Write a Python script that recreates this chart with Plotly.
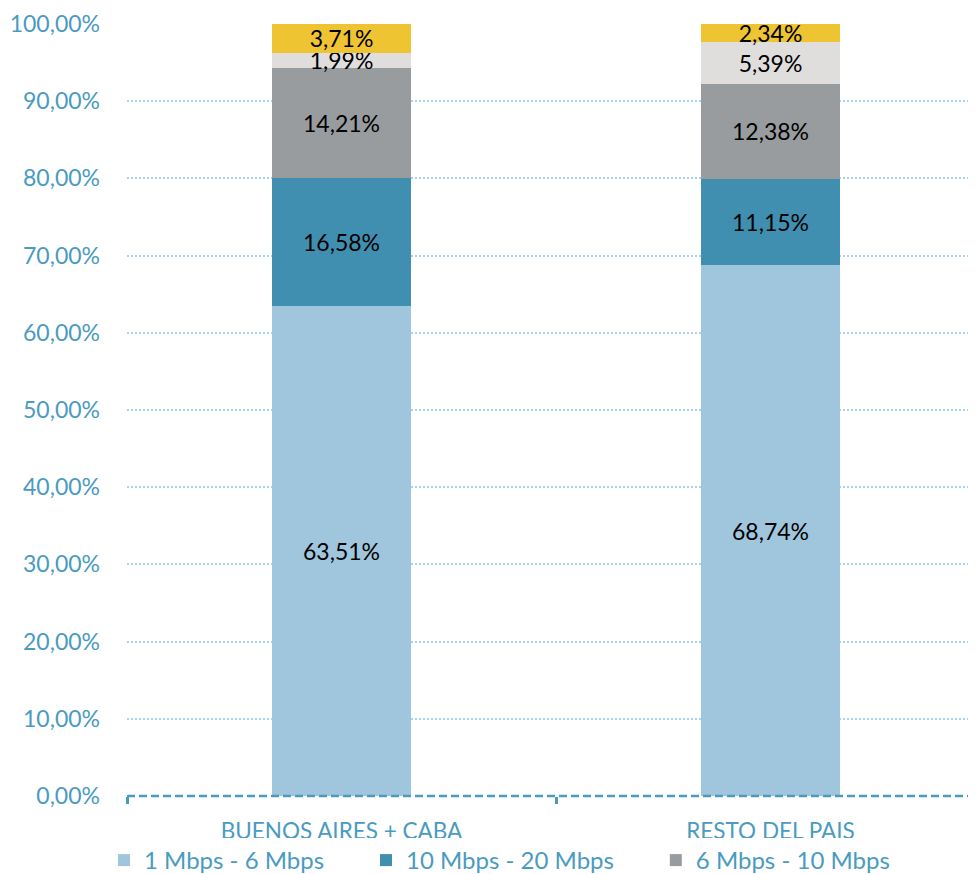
import plotly.graph_objects as go

categories = ["BUENOS AIRES + CABA", "RESTO DEL PAIS"]
series_names = ["1 Mbps - 6 Mbps", "10 Mbps - 20 Mbps", "6 Mbps - 10 Mbps",
                "Más de 20 Mbps", "Hasta 1 Mbps"]
s1 = [63.51, 68.74]
s2 = [16.58, 11.15]
s3 = [14.21, 12.38]
s4 = [1.99, 5.39]
s5 = [3.71, 2.34]
series_values = [s1, s2, s3, s4, s5]
colors = ["#9fc6dd", "#418fb0", "#999c9f", "#dfdedd", "#eec432"]
show_leg = [True, True, True, False, False]
y_ticks = [0, 10, 20, 30, 40, 50, 60, 70, 80, 90, 100]
y_tick_labels = ["0,00%", "10,00%", "20,00%", "30,00%", "40,00%", "50,00%",
                 "60,00%", "70,00%", "80,00%", "90,00%", "100,00%"]

FONT = "Lato"
BLUE = "#4a9bbf"
PAD = "\u00a0" * 6

fig = go.Figure()
for i, (name, vals, col, sl) in enumerate(zip(series_names, series_values, colors, show_leg)):
    fig.add_trace(go.Bar(
        x=categories, y=vals, name=name + (PAD if i < 2 else ""),
        marker=dict(color=col, line=dict(width=0)),
        texttemplate="%{y:.2f}%", textposition="inside", insidetextanchor="middle",
        textangle=0, textfont=dict(color="black", size=23, family=FONT),
        showlegend=sl, width=0.322,
    ))

W, H = 968, 866
fig.update_layout(
    barmode="stack",
    width=W, height=H,
    margin=dict(l=119, r=0, t=16, b=78, autoexpand=False),
    paper_bgcolor="white", plot_bgcolor="white",
    separators=",.",
    uniformtext=dict(minsize=23, mode="show"),
    font=dict(family=FONT, color=BLUE),
    legend=dict(orientation="h", xref="container", yref="container",
                x=96 / W, xanchor="left", y=36 / H, yanchor="top",
                font=dict(size=24, color=BLUE, family=FONT), traceorder="normal"),
    xaxis=dict(range=[-0.5, -0.5 + 849 / 429], showgrid=False, showline=False,
               automargin=False,
               ticks="outside", tickson="boundaries", ticklen=7, tickwidth=2.5,
               tickcolor=BLUE, tickfont=dict(size=22.5, color=BLUE, family=FONT),
               ticklabelstandoff=19),
    yaxis=dict(range=[0, 100], tickvals=y_ticks, ticktext=y_tick_labels,
               automargin=False,
               showgrid=True, gridcolor="#a9d3ec", griddash="2px,2px", gridwidth=2,
               zeroline=False, showline=False,
               tickfont=dict(size=23, color=BLUE, family=FONT),
               ticklabelstandoff=26),
)
fig.add_shape(type="line", xref="paper", yref="paper", x0=0, x1=1, y0=0, y1=0,
              line=dict(color=BLUE, width=2.5, dash="8px,4px"), layer="above")

fig.write_html("out.html")
